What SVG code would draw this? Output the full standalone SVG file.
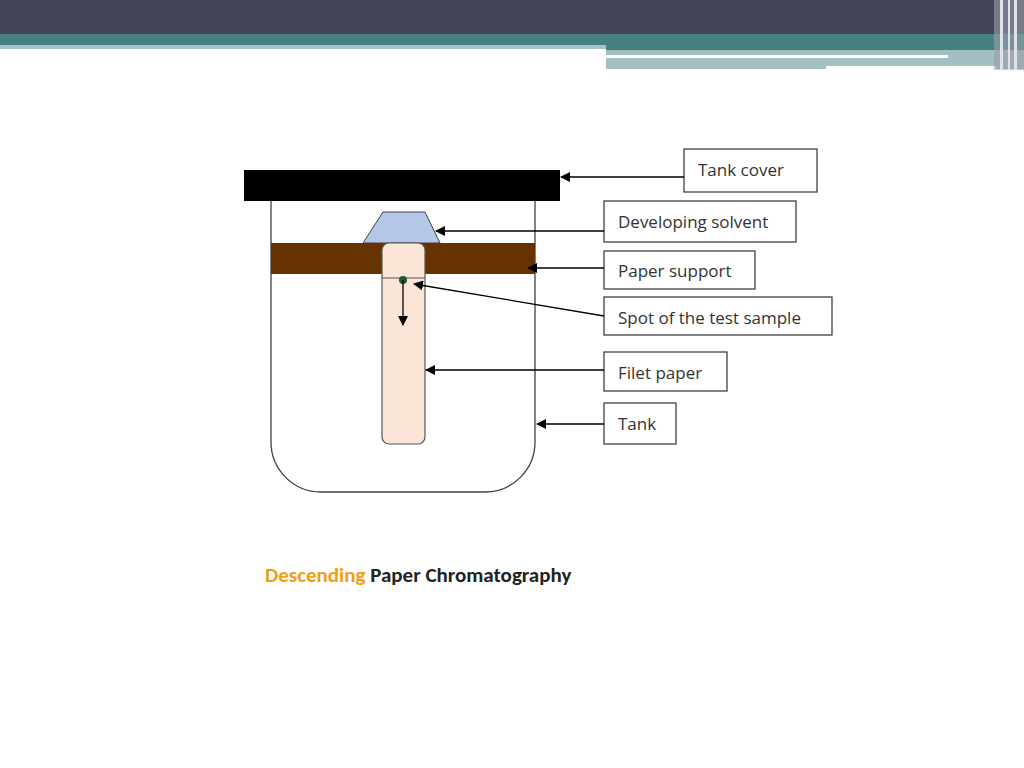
<svg xmlns="http://www.w3.org/2000/svg" width="1024" height="768" viewBox="0 0 1024 768">
<style>
.box{fill:#fff;stroke:#404040;stroke-width:1.3}
.lbl{font-family:"Open Sans","Liberation Sans",sans-serif;font-size:17px;fill:#333}
.con{stroke:#000;stroke-width:1.3;fill:none;marker-end:url(#ah)}
</style>
<defs><marker id="ah" viewBox="0 0 10 10" refX="9" refY="5" markerWidth="10" markerHeight="10" markerUnits="userSpaceOnUse" orient="auto"><path d="M0,0L10,5L0,10z" fill="#000"/></marker></defs>
<rect width="1024" height="768" fill="#fff"/>
<g id="banner">
<rect x="0" y="0" width="1024" height="35" fill="#424458"/>
<rect x="0" y="34" width="1024" height="11" fill="#478080"/>
<rect x="0" y="45" width="606" height="4" fill="#a8c4c6"/>
<rect x="606" y="45" width="418" height="5" fill="#478080"/>
<rect x="606" y="50" width="418" height="19" fill="#a3bfc1"/>
<rect x="606" y="55" width="342" height="3" fill="#fff"/>
<rect x="826" y="66" width="170" height="4" fill="#fff"/>
<rect x="994" y="0" width="30" height="70" fill="#9aa0ab" opacity="0.6"/>
<rect x="1000" y="0" width="3" height="70" fill="#e0e2e6"/>
<rect x="1008" y="0" width="2" height="70" fill="#e0e2e6"/>
<rect x="1014" y="0" width="3" height="70" fill="#e0e2e6"/>
</g>
<g id="tank"><path d="M271,200 V442 A50,50 0 0 0 321,492 H485 A50,50 0 0 0 535,442 V200" fill="#fff" stroke="#404040" stroke-width="1.3"/></g>
<g id="cover"><rect x="244" y="170" width="316" height="31" fill="#000"/></g>
<g id="solvent"><path d="M383,212 H425 L440,243 H363 Z" fill="#b4c7e7" stroke="#404040" stroke-width="1"/></g>
<g id="support"><rect x="271" y="243" width="264" height="31" fill="#663300"/></g>
<g id="paper"><rect x="382" y="243" width="43" height="201" rx="7" fill="#fbe5d6" stroke="#555" stroke-width="1.2"/>
<line x1="382" y1="278" x2="425" y2="278" stroke="#555" stroke-width="1"/></g>
<g id="spot"><circle cx="403" cy="280" r="4" fill="#1e5a2a"/><path d="M403,280 V325" class="con"/></g>
<g id="labels">
<rect class="box" x="684" y="149" width="133" height="43"/><text class="lbl" x="698" y="176">Tank cover</text>
<rect class="box" x="604" y="201" width="192" height="41"/><text class="lbl" x="618" y="228">Developing solvent</text>
<rect class="box" x="604" y="251" width="151" height="38"/><text class="lbl" x="618" y="277">Paper support</text>
<rect class="box" x="604" y="297" width="228" height="38"/><text class="lbl" x="618" y="324">Spot of the test sample</text>
<rect class="box" x="604" y="352" width="123" height="39"/><text class="lbl" x="618" y="379">Filet paper</text>
<rect class="box" x="604" y="403" width="72" height="41"/><text class="lbl" x="618" y="430">Tank</text>
</g>
<g id="connectors">
<path class="con" d="M684,177 H561"/>
<path class="con" d="M604,231 H436"/>
<path class="con" d="M604,268 H528"/>
<path class="con" d="M604,316 L414,284"/>
<path class="con" d="M604,370 H426"/>
<path class="con" d="M604,424 H537"/>
</g>
<text x="265" y="582" font-family="Calibri,Carlito,'Liberation Sans',sans-serif" font-weight="bold" font-size="21" fill="#222"><tspan fill="#f39c12">Descending</tspan> Paper Chromatography</text>
</svg>
